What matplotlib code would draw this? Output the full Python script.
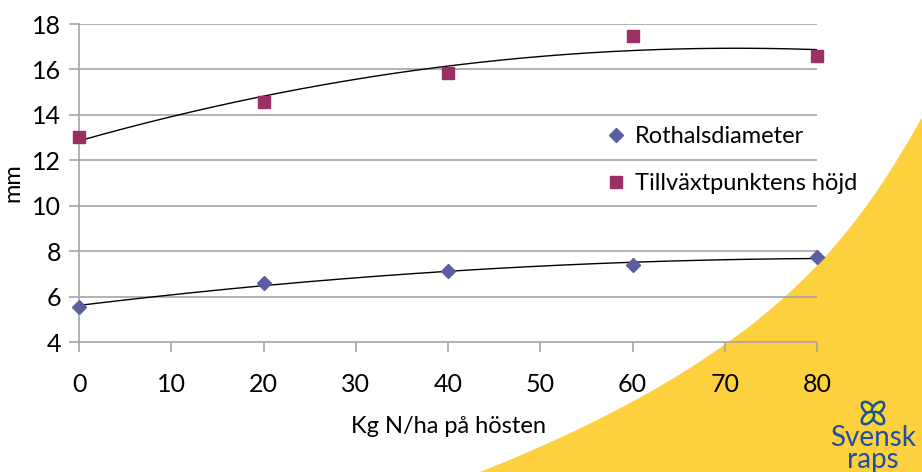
import numpy as np
import matplotlib
matplotlib.use("Agg")
import matplotlib.pyplot as plt
from matplotlib.patches import Polygon, Ellipse
from matplotlib.transforms import IdentityTransform

plt.rcParams['font.family'] = ['Lato', 'DejaVu Sans']

# data
kg_n = [0, 20, 40, 60, 80]
rothals = [5.55, 6.6, 7.12, 7.38, 7.74]
tillvaxt = [13.03, 14.57, 15.86, 17.47, 16.6]

x_ticks = [0, 10, 20, 30, 40, 50, 60, 70, 80]
y_ticks = [4, 6, 8, 10, 12, 14, 16, 18]

W, H = 922, 472
fig = plt.figure(figsize=(W / 100, H / 100), dpi=100)

# yellow swoosh in the background, smoothed edge through a few pixel points
ey = np.array([472, 467, 420, 383, 342, 297, 250, 183, 117])
ex = np.array([482, 490, 597, 667, 730, 780, 833, 883, 922])
c = np.polyfit(ey, ex, 3)
yy = np.linspace(117, 472, 80)
edge = [(np.polyval(c, v), v) for v in yy] + [(922, 472)]
fig.patches.append(Polygon([(px / W, 1 - py / H) for px, py in edge],
                           closed=True, transform=fig.transFigure,
                           facecolor='#FDD03E', edgecolor='none', zorder=-5))

ax = fig.add_axes([79 / W, 1 - 342 / H, (817 - 79) / W, (342 - 24) / H])
ax.set_facecolor('none')
ax.set_zorder(2)

grid_c = '#A6A6A6'
for y in y_ticks[1:]:
    ax.axhline(y, color=grid_c, lw=1.2, zorder=1)

# polynomial trend lines (order 2) like the Excel chart
xs = np.linspace(0, 80, 200)
for vals in (rothals, tillvaxt):
    coef = np.polyfit(kg_n, vals, 2)
    ax.plot(xs, np.polyval(coef, xs), color='black', lw=1.0, zorder=2)

ax.plot(kg_n, rothals, linestyle='none', marker='D', ms=7,
        color='#5B5EA0', label='Rothalsdiameter', zorder=3, clip_on=False)
ax.plot(kg_n, tillvaxt, linestyle='none', marker='s', ms=8.5,
        color='#9C2F65', label='Tillväxtpunktens höjd', zorder=3, clip_on=False)

ax.set_xlim(0, 80)
ax.set_ylim(4, 18)
ax.set_xticks(x_ticks)
ax.set_yticks(y_ticks)
ax.tick_params(axis='x', length=7, width=1.2, color=grid_c, pad=15, labelsize=18)
ax.tick_params(axis='y', length=7, width=1.2, color=grid_c, pad=6, labelsize=18)

for s in ('top', 'right'):
    ax.spines[s].set_visible(False)
ax.spines['left'].set_color(grid_c)
ax.spines['bottom'].set_color(grid_c)
ax.spines['left'].set_linewidth(1.2)
ax.spines['bottom'].set_linewidth(1.2)

ax.set_xlabel('Kg N/ha på hösten', fontsize=17, labelpad=15)
ax.set_ylabel('mm', fontsize=17, labelpad=6)

leg = ax.legend(loc='upper left', bbox_to_anchor=(598 / W, 1 - 117 / H),
                bbox_transform=fig.transFigure, frameon=False, fontsize=17,
                handlelength=0.7, handletextpad=0.45, labelspacing=1.1,
                borderaxespad=0)

# Svensk raps logo: four lobes round a centre
for (dx, dy) in [(-5, 5), (5, 5), (5, -5), (-5, -5)]:
    ang = -45 if dx * dy > 0 else 45
    fig.patches.append(Ellipse((873 + dx, H - 413 + dy), 9, 15, angle=ang,
                               transform=IdentityTransform(),
                               facecolor='#F6E01A', edgecolor='#1E4FA5',
                               lw=1.8, zorder=5))
fig.text(873 / W, 1 - 449 / H, 'Svensk\nraps', color='#1E4FA5', fontsize=20,
         ha='center', va='center', linespacing=0.85)

fig.savefig('out.png', dpi=100)
